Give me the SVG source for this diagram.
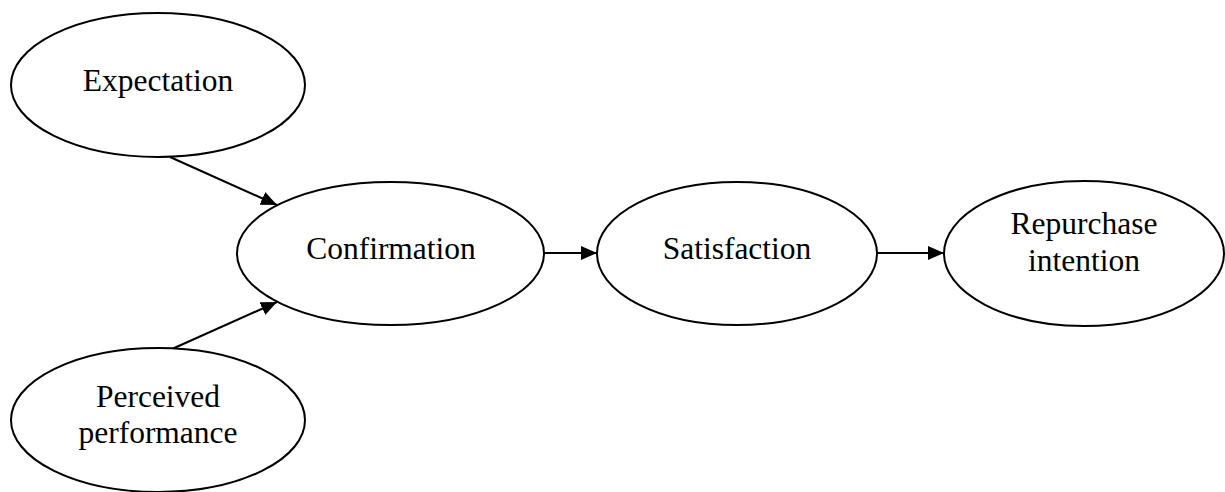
<svg xmlns="http://www.w3.org/2000/svg" width="1225" height="492" viewBox="0 0 1225 492">
  <style>
    .node ellipse { fill: #ffffff; stroke: #000000; stroke-width: 2; }
    .node text { font-family: "Liberation Serif", "Times New Roman", serif; font-size: 31.5px; fill: #000000; text-anchor: middle; }
    .edge { stroke: #000000; stroke-width: 2; fill: none; marker-end: url(#arrow); }
  </style>
  <defs>
    <marker id="arrow" markerUnits="userSpaceOnUse" markerWidth="17" markerHeight="15" refX="16" refY="7" orient="auto">
      <path d="M0,0 L16,7 L0,14 z" fill="#000000"/>
    </marker>
  </defs>
  <rect width="1225" height="492" fill="#ffffff"/>

  <g id="connectors">
    <line class="edge" x1="170" y1="157" x2="277" y2="205"/>
    <line class="edge" x1="172" y1="349" x2="277" y2="302"/>
    <line class="edge" x1="544" y1="253" x2="597" y2="253"/>
    <line class="edge" x1="877" y1="253" x2="944" y2="253"/>
  </g>

  <g id="expectation" class="node">
    <ellipse cx="158" cy="85" rx="147" ry="72"/>
    <text x="158" y="91">Expectation</text>
  </g>

  <g id="perceived-performance" class="node">
    <ellipse cx="158" cy="420" rx="147" ry="72"/>
    <text x="158" y="407">Perceived</text>
    <text x="158" y="443">performance</text>
  </g>

  <g id="confirmation" class="node">
    <ellipse cx="390.5" cy="253.5" rx="153.5" ry="71.5"/>
    <text x="391" y="259">Confirmation</text>
  </g>

  <g id="satisfaction" class="node">
    <ellipse cx="737" cy="253.5" rx="140" ry="71.5"/>
    <text x="737" y="259">Satisfaction</text>
  </g>

  <g id="repurchase-intention" class="node">
    <ellipse cx="1084" cy="253.5" rx="140" ry="72.5"/>
    <text x="1084" y="234">Repurchase</text>
    <text x="1084" y="271">intention</text>
  </g>
</svg>
